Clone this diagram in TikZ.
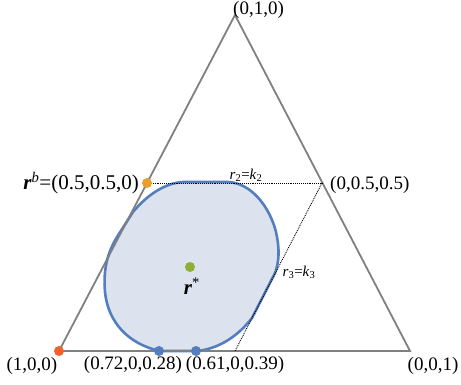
\documentclass[tikz,border=0pt]{standalone}
\usepackage{fontspec}
\setmainfont{Liberation Serif}
\definecolor{triGray}{RGB}{128,128,128}
\definecolor{blobFill}{RGB}{220,227,239}
\definecolor{blobLine}{RGB}{84,126,189}
\definecolor{dotRed}{RGB}{240,98,45}
\definecolor{dotOrange}{RGB}{234,160,40}
\definecolor{dotGreen}{RGB}{141,176,50}
\definecolor{dotBlue}{RGB}{84,126,189}
\tikzset{
  edge/.style={draw=triGray, line width=1.8pt},
  guide/.style={draw=black, densely dotted, line width=0.9pt},
  pt/.style={circle, inner sep=0pt, minimum size=10pt},
  lbl/.style={inner sep=0pt, font=\fontsize{19}{22}\selectfont},
  small/.style={inner sep=0pt, font=\fontsize{15}{18}\selectfont},
  big/.style={inner sep=0pt, font=\fontsize{21}{24}\selectfont}
}
\begin{document}
\begin{tikzpicture}[x=1pt,y=-1pt]
\useasboundingbox (0,0) rectangle (461,385);
% vertices
\coordinate (A) at (59,351);
\coordinate (B) at (235,15);
\coordinate (C) at (410,351);
\coordinate (M) at (147,183);
\coordinate (N) at (322,183);
\coordinate (K) at (235,351);
% blob
\filldraw[fill=blobFill, draw=blobLine, line width=2.6pt, line join=round]
  (183,182) -- (228,182)
  .. controls (252,183) and (270,208) .. (276,232)
  .. controls (280,250) and (279,262) .. (275,273)
  -- (252,318)
  .. controls (238,336) and (220,348) .. (198,351)
  -- (160,351)
  .. controls (128,344) and (108,322) .. (105,292)
  .. controls (103,268) and (108,252) .. (117,237)
  -- (133,212)
  .. controls (147,195) and (165,183) .. (183,182) -- cycle;
% triangle
\draw[edge, line join=miter] (A) -- (B) -- (C) -- cycle;
% guides
\draw[guide] (M) -- (N);
\draw[guide] (N) -- (K);
% dots
\node[pt, fill=dotRed] (pA) at (A) {};
\node[pt, fill=dotOrange] (pM) at (M) {};
\node[pt, fill=dotGreen] (pS) at (190,267) {};
\node[pt, fill=dotBlue] (p1) at (159,351) {};
\node[pt, fill=dotBlue] (p2) at (196,351) {};
% labels
\node[lbl, anchor=west] (tB) at (233,10) {(0,1,0)};
\node[lbl, anchor=west] (tN) at (330,185) {(0,0.5,0.5)};
\node[lbl] (tA) at (32,366) {(1,0,0)};
\node[lbl] (tC) at (433,366) {(0,0,1)};
\node[lbl] (t1) at (133,365) {(0.72,0,0.28)};
\node[lbl] (t2) at (235,365) {(0.61,0,0.39)};
\node[big, anchor=east] (tM) at (139,183) {\textbf{\textit{r}}\textsuperscript{\textit{b}}=(0.5,0.5,0)};
\node[small] (t2k) at (246,175) {\textit{r}\textsubscript{2}=\textit{k}\textsubscript{2}};
\node[small] (t3k) at (299,272) {\textit{r}\textsubscript{3}=\textit{k}\textsubscript{3}};
\node[big] (tS) at (192,286) {\textbf{\textit{r}}\textsuperscript{*}};
\end{tikzpicture}
\end{document}
